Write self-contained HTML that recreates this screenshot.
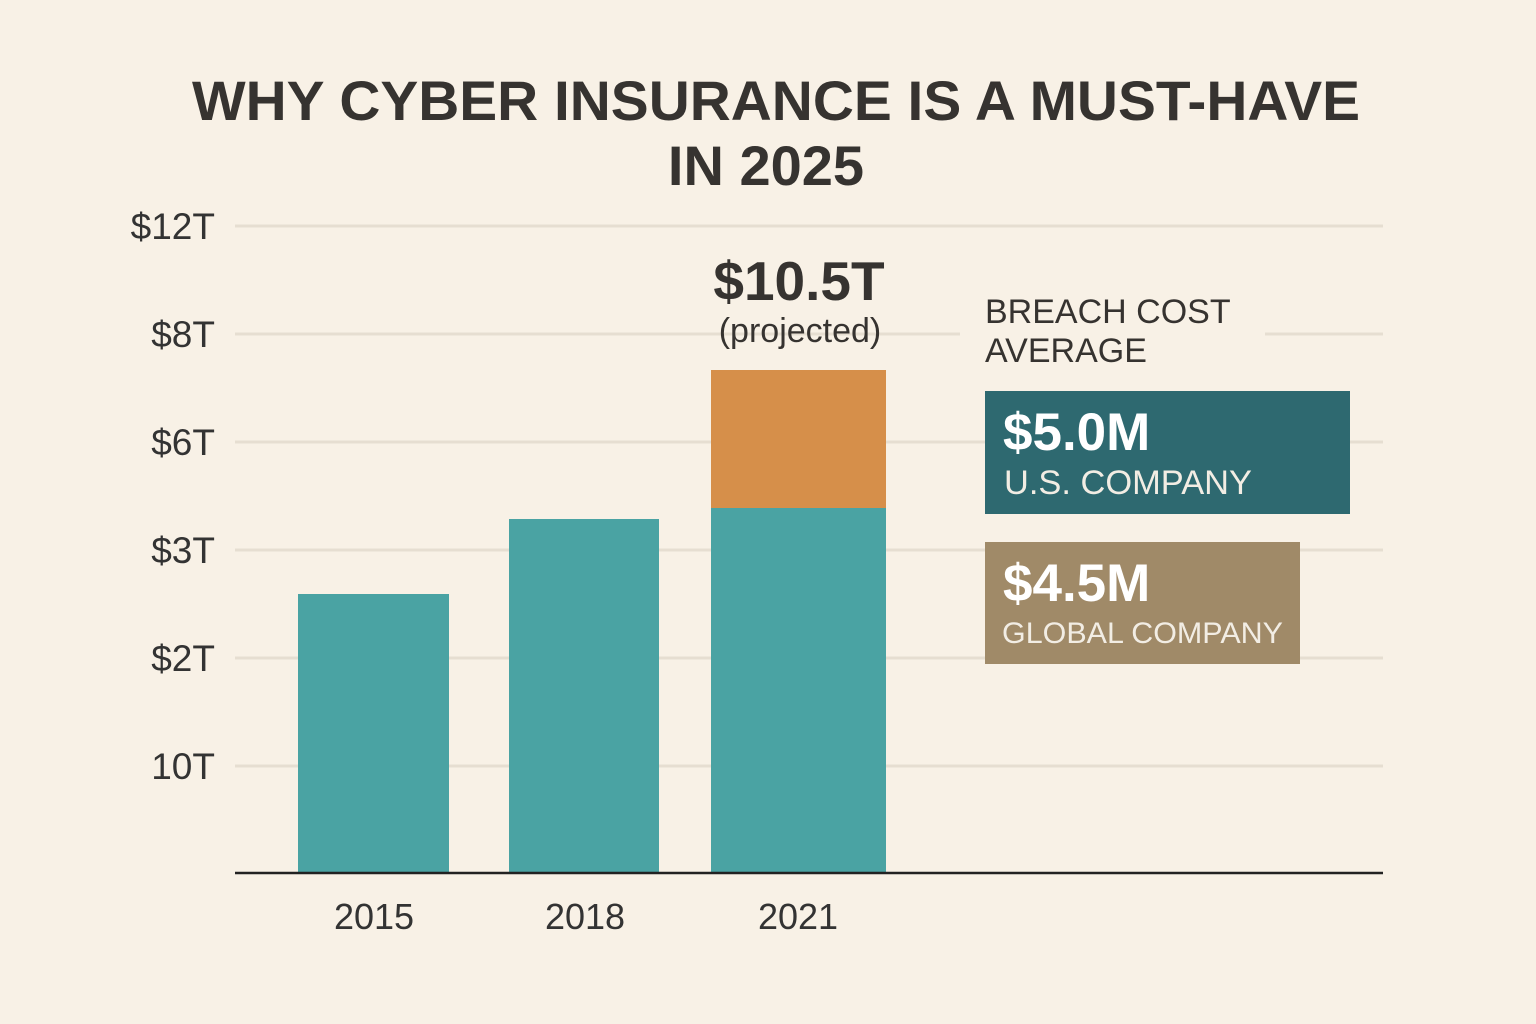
<!DOCTYPE html>
<html><head><meta charset="utf-8"><style>
html,body{margin:0;padding:0;background:#f8f1e6;}
svg{display:block;}
text{font-family:"Liberation Sans","DejaVu Sans",sans-serif;}
</style></head><body>
<svg width="1536" height="1024" viewBox="0 0 1536 1024" xmlns="http://www.w3.org/2000/svg">
<rect width="1536" height="1024" fill="#f8f1e6"/>
<text x="776" y="120" text-anchor="middle" font-size="56" font-weight="bold" fill="#363330" textLength="1168" lengthAdjust="spacingAndGlyphs">WHY CYBER INSURANCE IS A MUST-HAVE</text>
<text x="766" y="185" text-anchor="middle" font-size="56" font-weight="bold" fill="#363330">IN 2025</text>
<g stroke="#e6ded1" stroke-width="3">
<line x1="235" y1="226" x2="1383" y2="226"/>
<line x1="235" y1="334" x2="1383" y2="334"/>
<line x1="235" y1="442" x2="1383" y2="442"/>
<line x1="235" y1="550" x2="1383" y2="550"/>
<line x1="235" y1="658" x2="1383" y2="658"/>
<line x1="235" y1="766" x2="1383" y2="766"/>
</g>
<rect x="960" y="290" width="305" height="80" fill="#f8f1e6"/>
<g font-size="37" fill="#333" text-anchor="end">
<text x="215" y="239">$12T</text>
<text x="215" y="347">$8T</text>
<text x="215" y="455">$6T</text>
<text x="215" y="563">$3T</text>
<text x="215" y="671">$2T</text>
<text x="215" y="779">10T</text>
</g>
<rect x="298" y="594" width="151" height="279" fill="#4aa3a3"/>
<rect x="509" y="519" width="150" height="354" fill="#4aa3a3"/>
<rect x="711" y="508" width="175" height="365" fill="#4aa3a3"/>
<rect x="711" y="370" width="175" height="138" fill="#d68f4a"/>
<line x1="235" y1="873" x2="1383" y2="873" stroke="#222" stroke-width="2.5"/>
<g font-size="36" fill="#333" text-anchor="middle">
<text x="374" y="929">2015</text>
<text x="585" y="929">2018</text>
<text x="798" y="929">2021</text>
</g>
<text x="799" y="300" text-anchor="middle" font-size="55" font-weight="bold" fill="#363330">$10.5T</text>
<text x="800" y="342" text-anchor="middle" font-size="34" fill="#363330">(projected)</text>
<text x="985" y="323" font-size="34" fill="#363330">BREACH COST</text>
<text x="985" y="362" font-size="34" fill="#363330">AVERAGE</text>
<rect x="985" y="391" width="365" height="123" fill="#2e6970"/>
<text x="1003" y="450" font-size="53" font-weight="bold" fill="#fff">$5.0M</text>
<text x="1004" y="494" font-size="34" fill="#f2ede4" textLength="248" lengthAdjust="spacingAndGlyphs">U.S. COMPANY</text>
<rect x="985" y="542" width="315" height="122" fill="#a08a68"/>
<text x="1003" y="601" font-size="53" font-weight="bold" fill="#fff">$4.5M</text>
<text x="1002" y="643" font-size="30" fill="#f2ede4" textLength="281" lengthAdjust="spacingAndGlyphs">GLOBAL COMPANY</text>
</svg>
</body></html>
